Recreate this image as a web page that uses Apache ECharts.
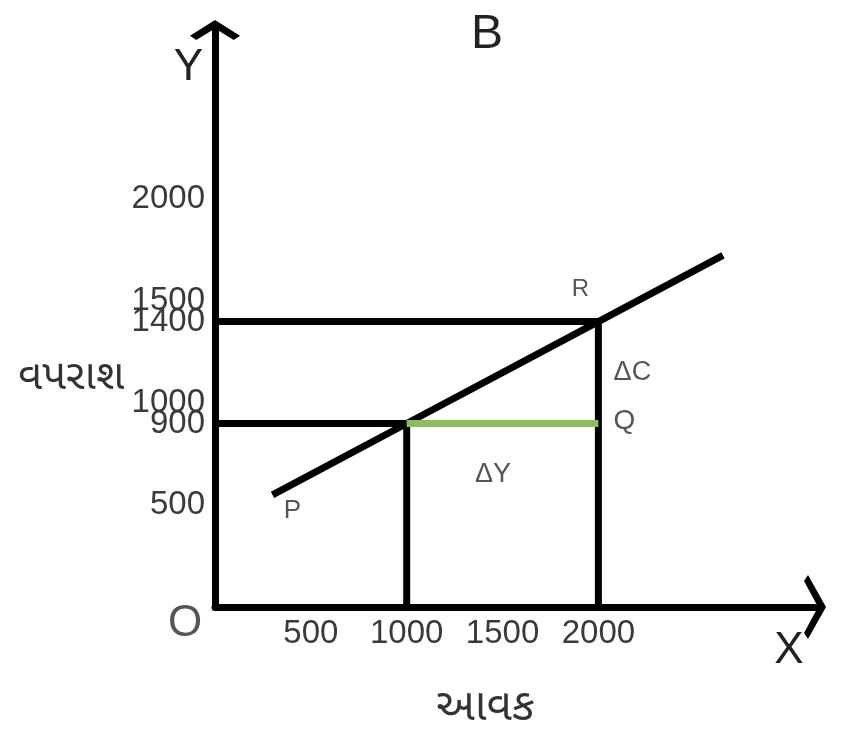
<!DOCTYPE html>
<html><head><meta charset="utf-8">
<script src="https://cdn.jsdelivr.net/npm/echarts@6/dist/echarts.min.js"></script>
<style>html,body{margin:0;padding:0;background:#fff}#c{width:846px;height:738px}</style>
</head><body><div id="c"></div>
<script>
// ---- data ----
const xTicks = [500, 1000, 1500, 2000];
const yTicks = [500, 900, 1000, 1400, 1500, 2000];
const lineIncome = [300, 1000, 2000, 2650];
const lineConsumption = [550, 900, 1400, 1725];
const incomeLevels = [1000, 2000];        // initial, new income
const consumptionLevels = [900, 1400];    // initial, new consumption
const pointNames = ['P', 'R', 'Q', 'ΔC', 'ΔY', 'O'];
const pointIncome = [300, 2000, 2000, 2000, 1450, 0];
const pointConsumption = [550, 1400, 900, 1150, 650, 0];
const titleText = 'B';
const xName = 'આવક';
const yName = 'વપરાશ';

// ---- styles ----
const tickFont = "'Liberation Sans',Arial,sans-serif";
const plainFont = "'Liberation Sans',Arial,sans-serif";
const gujFont = "'Noto Sans Gujarati','Lohit Gujarati','Noto Sans',sans-serif";
const chevY = 'path://M0,15 L24,0 L48,15 L42,19 L24,8 L6,19 Z';
const chevX = 'path://M0,18 L32,0 L64,18 L58,22 L32,8 L6,22 Z';
const labelStyles = {
  'P':  {fontSize: 26, offset: [20, 16]},
  'R':  {fontSize: 24, offset: [-18, -32]},
  'Q':  {fontSize: 28, offset: [26, -2]},
  'ΔC': {fontSize: 27, offset: [34, 0]},
  'ΔY': {fontSize: 27, offset: [0, 0]},
  'O':  {fontSize: 44, offset: [-30, 17]}
};

const mainLine = lineIncome.map((x, i) => [x, lineConsumption[i]]);
const guideNew = [[0, consumptionLevels[1]], [incomeLevels[1], consumptionLevels[1]], [incomeLevels[1], 0]];
const guideOld = [[0, consumptionLevels[0]], [incomeLevels[0], consumptionLevels[0]], [incomeLevels[0], 0]];
const greenSeg = [[incomeLevels[0], consumptionLevels[0]], [incomeLevels[1], consumptionLevels[0]]];
const annot = pointNames.map((n, i) => ({
  name: n,
  value: [pointIncome[i], pointConsumption[i]],
  label: {show: true, formatter: n, position: 'inside', color: '#2a2a2a',
          fontFamily: plainFont, fontSize: labelStyles[n].fontSize, offset: labelStyles[n].offset}
}));

const chart = echarts.init(document.getElementById('c'), null, {renderer: 'canvas'});
chart.setOption({
  animation: false,
  backgroundColor: '#fff',
  title: {text: titleText, left: 466, top: 6,
          textStyle: {fontSize: 48, fontWeight: 'normal', color: '#222', fontFamily: plainFont}},
  grid: {left: 215, right: 31, top: 30, bottom: 131, containLabel: false},
  xAxis: {
    type: 'value', min: 0, max: 3130,
    name: 'X', nameLocation: 'end', nameGap: -26,
    nameTextStyle: {fontSize: 44, color: '#222', fontFamily: plainFont, align: 'center', verticalAlign: 'top', padding: [22, 0, 0, 0]},
    axisLine: {show: true, onZero: false, symbol: ['none', chevX], symbolSize: [64, 26], lineStyle: {color: '#000', width: 7}},
    axisTick: {show: false}, splitLine: {show: false},
    axisLabel: {customValues: xTicks, formatter: v => String(v), margin: 10, fontSize: 33, color: '#3a3a3a', fontFamily: tickFont}
  },
  yAxis: {
    type: 'value', min: 0, max: 2830,
    name: 'Y', nameLocation: 'end', nameGap: -38,
    nameTextStyle: {fontSize: 44, color: '#222', fontFamily: plainFont, align: 'right', verticalAlign: 'middle', padding: [0, 12, 0, 0]},
    axisLine: {show: true, onZero: false, symbol: ['none', chevY], symbolSize: [50, 30], lineStyle: {color: '#000', width: 7}},
    axisTick: {show: false}, splitLine: {show: false},
    axisLabel: {customValues: yTicks, formatter: v => String(v), margin: 10, fontSize: 33, color: '#3a3a3a', fontFamily: tickFont}
  },
  graphic: [
    {type: 'text', left: 18, top: 360, style: {text: yName, fontSize: 42, fill: '#333', fontFamily: gujFont}},
    {type: 'text', left: 436, top: 690, style: {text: xName, fontSize: 44, fill: '#333', fontFamily: gujFont}}
  ],
  series: [
    {type: 'line', data: guideNew, symbol: 'none', lineStyle: {color: '#000', width: 7}, z: 2},
    {type: 'line', data: guideOld, symbol: 'none', lineStyle: {color: '#000', width: 7}, z: 2},
    {type: 'line', data: mainLine, symbol: 'none', lineStyle: {color: '#000', width: 7}, z: 3},
    {type: 'line', data: greenSeg, symbol: 'none', lineStyle: {color: '#8dbd5e', width: 7}, z: 4},
    {type: 'scatter', data: annot, symbolSize: 1, itemStyle: {color: 'rgba(0,0,0,0)'}, z: 5}
  ]
});
</script></body></html>
